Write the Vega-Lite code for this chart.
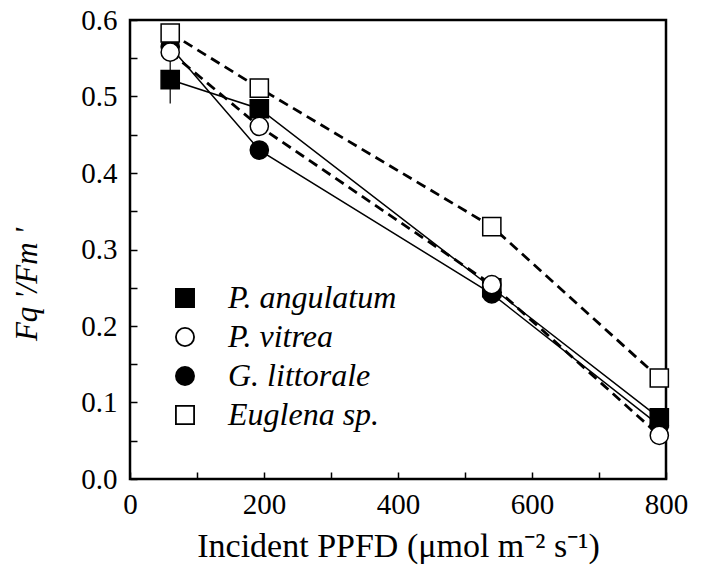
{
  "$schema": "https://vega.github.io/schema/vega-lite/v6.json",
  "width": 536,
  "height": 459,
  "autosize": {"type": "none"},
  "padding": {"left": 130, "top": 20, "right": 38, "bottom": 99},
  "background": "white",
  "config": {
    "view": {"stroke": "black", "strokeWidth": 2.5},
    "font": "Liberation Serif, Times New Roman, serif",
    "axis": {
      "domain": false,
      "grid": false,
      "tickColor": "black",
      "tickWidth": 1.5,
      "tickSize": -7,
      "labelFont": "Liberation Serif, Times New Roman, serif",
      "labelFontSize": 29,
      "labelColor": "black",
      "titleFont": "Liberation Serif, Times New Roman, serif",
      "titleFontSize": 34,
      "titleFontWeight": "normal",
      "titleColor": "black"
    },
    "legend": {
      "labelFont": "Liberation Serif, Times New Roman, serif"
    }
  },
  "data": {
    "values": [
      {"species": "G. littorale", "ppfd": 60, "fqfm": 0.565},
      {"species": "G. littorale", "ppfd": 193, "fqfm": 0.430},
      {"species": "G. littorale", "ppfd": 540, "fqfm": 0.242},
      {"species": "G. littorale", "ppfd": 790, "fqfm": 0.070},
      {"species": "P. angulatum", "ppfd": 60, "fqfm": 0.522, "lo": 0.491, "hi": 0.553},
      {"species": "P. angulatum", "ppfd": 193, "fqfm": 0.484},
      {"species": "P. angulatum", "ppfd": 540, "fqfm": 0.250},
      {"species": "P. angulatum", "ppfd": 790, "fqfm": 0.080},
      {"species": "Euglena sp.", "ppfd": 60, "fqfm": 0.583},
      {"species": "Euglena sp.", "ppfd": 193, "fqfm": 0.511},
      {"species": "Euglena sp.", "ppfd": 540, "fqfm": 0.330},
      {"species": "Euglena sp.", "ppfd": 790, "fqfm": 0.132},
      {"species": "P. vitrea", "ppfd": 60, "fqfm": 0.558},
      {"species": "P. vitrea", "ppfd": 193, "fqfm": 0.461},
      {"species": "P. vitrea", "ppfd": 540, "fqfm": 0.254},
      {"species": "P. vitrea", "ppfd": 790, "fqfm": 0.057}
    ]
  },
  "encoding": {
    "x": {
      "field": "ppfd", "type": "quantitative",
      "scale": {"domain": [0, 800], "nice": false, "zero": false},
      "axis": {
        "values": [0, 100, 200, 300, 400, 500, 600, 700, 800],
        "labelExpr": "datum.value % 200 == 0 ? datum.label : ''",
        "labelPadding": 18,
        "labelFlush": false,
        "labelOverlap": false,
        "title": "Incident PPFD (μmol m⁻² s⁻¹)",
        "titleBaseline": "alphabetic",
        "titleY": 77
      }
    },
    "y": {
      "field": "fqfm", "type": "quantitative",
      "scale": {"domain": [0, 0.6], "nice": false, "zero": false},
      "axis": {
        "values": [0, 0.05, 0.1, 0.15, 0.2, 0.25, 0.3, 0.35, 0.4, 0.45, 0.5, 0.55, 0.6],
        "labelExpr": "round(datum.value * 20) % 2 == 0 ? format(datum.value, '.1f') : ''",
        "labelPadding": 20,
        "labelFlush": false,
        "labelOverlap": false,
        "title": "Fq '/Fm '",
        "titleFontSize": 31,
        "titleFontStyle": "italic",
        "titleX": -103,
        "titleY": 264,
        "titleAngle": -90,
        "titleBaseline": "middle",
        "titleAlign": "center"
      }
    }
  },
  "layer": [
    {
      "mark": {"type": "rule", "color": "black", "strokeWidth": 1.2},
      "transform": [{"filter": "isValid(datum.lo)"}],
      "encoding": {"y": {"field": "lo", "type": "quantitative"}, "y2": {"field": "hi"}}
    },
    {
      "mark": {"type": "line", "color": "black", "strokeWidth": 1.5},
      "transform": [{"filter": "datum.species == 'P. angulatum' || datum.species == 'G. littorale'"}],
      "encoding": {"detail": {"field": "species"}}
    },
    {
      "mark": {"type": "line", "color": "black", "strokeWidth": 2.8, "strokeDash": [10, 6]},
      "transform": [{"filter": "datum.species == 'P. vitrea' || datum.species == 'Euglena sp.'"}],
      "encoding": {"detail": {"field": "species"}}
    },
    {
      "mark": {"type": "point", "filled": true, "stroke": "black", "strokeWidth": 1.5, "size": 330, "opacity": 1},
      "encoding": {
        "shape": {
          "field": "species", "type": "nominal",
          "scale": {"domain": ["P. angulatum", "P. vitrea", "G. littorale", "Euglena sp."], "range": ["square", "circle", "circle", "square"]},
          "legend": {
            "title": null,
            "orient": "none",
            "legendX": 39,
            "legendY": 262,
            "padding": 0,
            "symbolSize": 330,
            "symbolStrokeColor": "black",
            "symbolStrokeWidth": 1.5,
            "symbolOpacity": 1,
            "labelFont": "Liberation Serif, Times New Roman, serif",
            "labelFontStyle": "italic",
            "labelFontSize": 32,
            "labelColor": "black",
            "labelOffset": 27,
            "rowPadding": 7,
            "labelLimit": 400,
            "encode": {"symbols": {"update": {"stroke": {"value": "black"}, "strokeWidth": {"value": 1.8}}}}
          }
        },
        "fill": {
          "field": "species", "type": "nominal",
          "scale": {"domain": ["P. angulatum", "P. vitrea", "G. littorale", "Euglena sp."], "range": ["black", "white", "black", "white"]},
          "legend": {
            "title": null,
            "orient": "none",
            "legendX": 39,
            "legendY": 262,
            "padding": 0,
            "symbolSize": 330,
            "symbolStrokeColor": "black",
            "symbolStrokeWidth": 1.5,
            "symbolOpacity": 1,
            "labelFont": "Liberation Serif, Times New Roman, serif",
            "labelFontStyle": "italic",
            "labelFontSize": 32,
            "labelColor": "black",
            "labelOffset": 27,
            "rowPadding": 7,
            "labelLimit": 400,
            "encode": {"symbols": {"update": {"stroke": {"value": "black"}, "strokeWidth": {"value": 1.8}}}}
          }
        }
      }
    }
  ]
}
